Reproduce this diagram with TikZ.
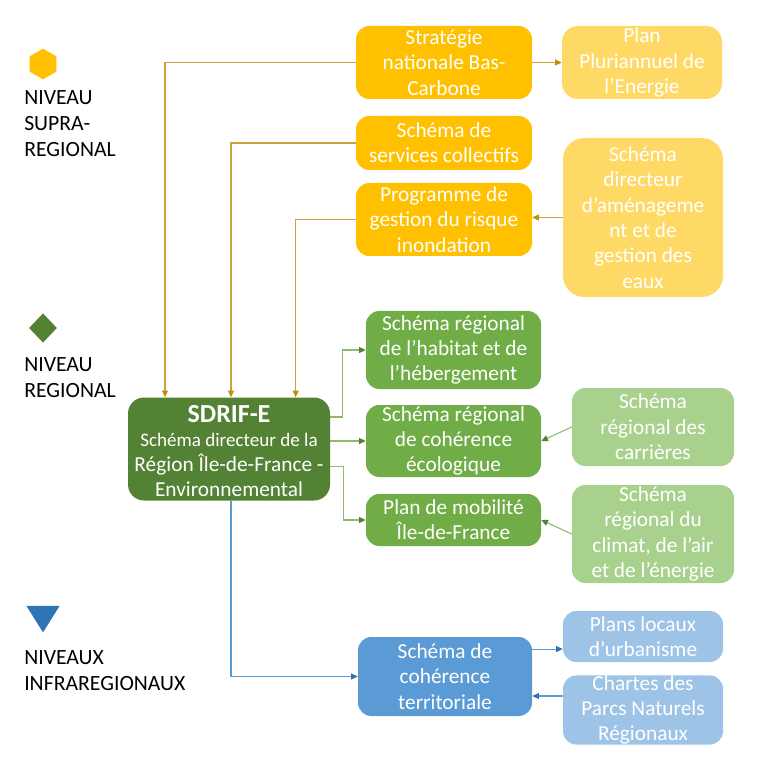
\documentclass[tikz,border=0pt]{standalone}
\usepackage{fontspec}
\setmainfont{Carlito}
\usepackage{xcolor}
\usetikzlibrary{arrows.meta,shapes.geometric}

\definecolor{gold}{HTML}{FFC000}
\definecolor{goldlight}{HTML}{FFD966}
\definecolor{goldline}{HTML}{C9A43E}
\definecolor{golddark}{HTML}{BF9000}
\definecolor{greendark}{HTML}{548235}
\definecolor{greenmid}{HTML}{70AD47}
\definecolor{greenlight}{HTML}{A9D18E}
\definecolor{greenline}{HTML}{8DBB6E}
\definecolor{bluemid}{HTML}{5B9BD5}
\definecolor{bluelight}{HTML}{9DC3E6}
\definecolor{bluedark}{HTML}{2E75B6}

\begin{document}
\begin{tikzpicture}[x=0.75pt, y=-0.75pt,
    every node/.style={font=\fontsize{16}{19}\selectfont},
    box/.style={rectangle, rounded corners=10pt, text=white, align=center, inner sep=0pt},
    lvl/.style={anchor=west, align=left, text=black, inner sep=0pt, font=\fontsize{16.3}{19.5}\selectfont},
    goldarrow/.style={draw=goldline, line width=0.8pt, -{Triangle[length=5pt,width=4.5pt,color=golddark]}},
    greenarrow/.style={draw=greenline, line width=0.8pt, -{Triangle[length=5pt,width=4.5pt,color=greendark]}},
    bluearrow/.style={draw=bluemid, line width=0.8pt, -{Triangle[length=5pt,width=4.5pt,color=bluedark]}}]
    \useasboundingbox (0,0) rectangle (758,762);

    % levels
    \node (hexa) at (43,64) [regular polygon, regular polygon sides=6, rotate=30, fill=gold, inner sep=0pt, minimum size=23pt] {};
    \node (supra) at (24,124) [lvl] {NIVEAU\\SUPRA-\\REGIONAL};
    \node (losange) at (43,328) [diamond, fill=greendark, inner sep=0pt, minimum width=21pt, minimum height=22pt] {};
    \node (regional) at (24,377.5) [lvl] {NIVEAU\\REGIONAL};
    \node (triangle) at (43,615) [isosceles triangle, isosceles triangle apex angle=64, shape border rotate=-90, fill=bluedark, inner sep=0pt, minimum width=21pt, minimum height=20pt] {};
    \node (infra) at (24,670.5) [lvl] {NIVEAUX\\INFRAREGIONAUX};

    % supra-regional
    \node (snbc) at (444,62.5) [box, fill=gold, minimum width=132pt, minimum height=54.75pt] {Stratégie\\nationale Bas-\\Carbone};
    \node (ppe) at (642,62.5) [box, fill=goldlight, minimum width=120pt, minimum height=54.75pt, rounded corners=12pt] {Plan\\Pluriannuel de\\l’Energie};
    \node (ssc) at (444,143) [box, fill=gold, minimum width=132pt, minimum height=40.5pt] {Schéma de\\services collectifs};
    \node (pgri) at (444,219.5) [box, fill=gold, minimum width=132pt, minimum height=54.75pt] {Programme de\\gestion du risque\\inondation};
    \node (sdage) at (643,217.5) [box, fill=goldlight, minimum width=120pt, minimum height=119.25pt, rounded corners=16pt] {Schéma\\directeur\\d’aménageme\\nt et de\\gestion des\\eaux};

    % regional
    \node (sdrif) at (229,449) [box, fill=greendark, minimum width=151.5pt, minimum height=77.25pt, rounded corners=12pt] {};
    \node (sdriftxt) at (sdrif.center) [text=white, align=center, inner sep=0pt, yshift=-1.5pt] {\fontsize{19.5}{22}\selectfont\bfseries SDRIF-E\\[-1pt]\fontsize{14.3}{17.4}\selectfont\mdseries Schéma directeur de la\\Région Île-de-France -\\Environnemental};
    \node (srhh) at (453.5,350) [box, fill=greenmid, minimum width=131.25pt, minimum height=58.5pt] {Schéma régional\\de l’habitat et de\\l’hébergement};
    \node (srce) at (453.5,441) [box, fill=greenmid, minimum width=131.25pt, minimum height=54pt] {Schéma régional\\de cohérence\\écologique};
    \node (src) at (653,427) [box, fill=greenlight, minimum width=121.5pt, minimum height=58.5pt] {Schéma\\régional des\\carrières};
    \node (pdm) at (453.5,520) [box, fill=greenmid, minimum width=131.25pt, minimum height=39pt] {Plan de mobilité\\Île-de-France};
    \node (srcae) at (653,534) [box, fill=greenlight, minimum width=121.5pt, minimum height=73.5pt] {Schéma\\régional du\\climat, de l’air\\et de l’énergie};

    % infra-regional
    \node (scot) at (445,676.5) [box, fill=bluemid, minimum width=130.5pt, minimum height=59.25pt] {Schéma de\\cohérence\\territoriale};
    \node (plu) at (643,636.5) [box, fill=bluelight, minimum width=120pt, minimum height=38.25pt] {Plans locaux\\d’urbanisme};
    \node (pnr) at (643,710) [box, fill=bluelight, minimum width=120pt, minimum height=51pt] {Chartes des\\Parcs Naturels\\Régionaux};

    % connectors
    \draw[goldarrow] (snbc.west) -| ([xshift=-48pt]sdrif.north);
    \draw[goldarrow] (ssc.west) -| ([xshift=1.5pt]sdrif.north);
    \draw[goldarrow] (pgri.west) -| ([xshift=50pt]sdrif.north);
    \draw[goldarrow] (snbc.east) -- (ppe.west);
    \draw[goldarrow] (sdage.west) -- (sdage.west -| pgri.east);

    \draw[greenarrow] ([yshift=24pt]sdrif.east) -- ++(12,0) |- (srhh.west);
    \draw[greenarrow] (sdrif.east |- srce.west) -- (srce.west);
    \draw[greenarrow] ([yshift=-13pt]sdrif.east) -- ++(13,0) |- (pdm.west);
    \draw[greenarrow] (src.west) -- (srce.east);
    \draw[greenarrow] (srcae.west) -- (pdm.east);

    \draw[bluearrow] ([xshift=1.5pt]sdrif.south) |- (scot.west);
    \draw[bluearrow] ([yshift=-9.4pt]plu.west -| scot.east) -- ([yshift=-9.4pt]plu.west);
    \draw[bluearrow] ([yshift=10.5pt]pnr.west) -- ([yshift=10.5pt]pnr.west -| scot.east);
\end{tikzpicture}
\end{document}
